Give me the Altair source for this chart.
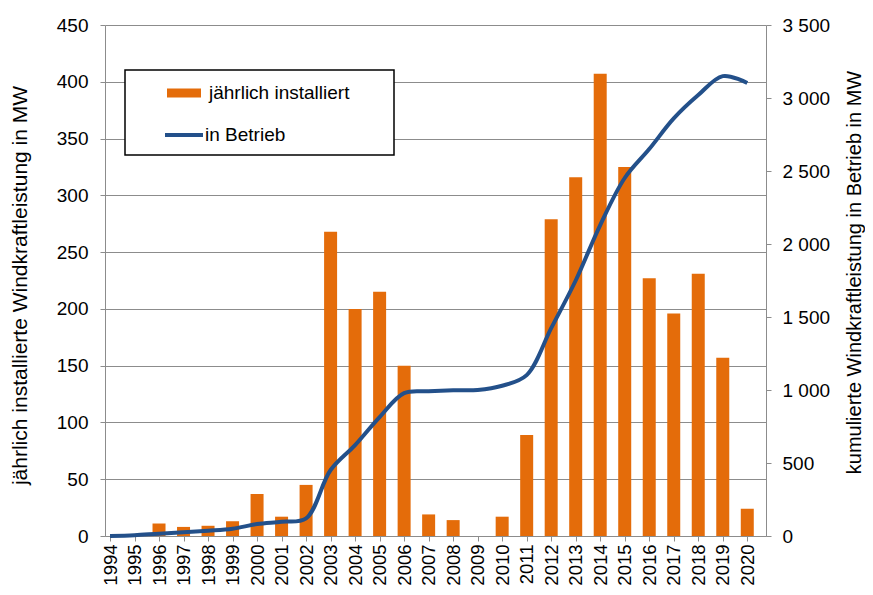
import altair as alt
import pandas as pd

years = list(range(1994, 2021))
annual = [0, 0, 11, 8, 9, 13, 37, 17, 45, 268, 200, 215, 150, 19, 14, 0, 17, 89,
          279, 316, 407, 325, 227, 196, 231, 157, 24]
cumulative = [0, 5, 16, 25, 36, 50, 82, 98, 121, 452, 623, 815, 979, 991, 998, 1000,
              1029, 1102, 1424, 1750, 2130, 2452, 2650, 2860, 3020, 3150, 3103]
bar_label = "jährlich installiert"
line_label = "in Betrieb"
left_ticks = list(range(0, 451, 50))
right_ticks = list(range(0, 3501, 500))

ORANGE = "#E46C0A"
BLUE = "#23508A"
GRID = "#8C8C8C"
FONT = "Liberation Sans"

df = pd.DataFrame({"year": years, "annual": annual, "cum": cumulative,
                   "s1": bar_label, "s2": line_label})

xscale = alt.Scale(domain=[1994, 2020.56], nice=False, zero=False)
xaxis = alt.Axis(values=years, format="d", labelAngle=-90, grid=False, title=None,
                 tickSize=5, labelPadding=3, domainColor=GRID, tickColor=GRID,
                 labelFontSize=18.5, labelFont=FONT, labelColor="#000000")

bars = alt.Chart(df).mark_bar(size=13).encode(
    x=alt.X("year:Q", scale=xscale, axis=xaxis),
    y=alt.Y("annual:Q", scale=alt.Scale(domain=[0, 450], nice=False),
            axis=alt.Axis(values=left_ticks, title="jährlich installierte Windkraftleistung in MW",
                          grid=True, gridColor=GRID, tickSize=5, labelPadding=12,
                          domainColor=GRID, tickColor=GRID,
                          titleX=-85, titleY=260, titleAngle=-90, titleAlign="center",
                          titleBaseline="middle", titleFontSize=21)),
    color=alt.Color("s1:N", scale=alt.Scale(domain=[bar_label], range=[ORANGE]),
                    legend=alt.Legend(title=None, orient="none", legendX=62, legendY=51,
                                      symbolType="M-1,-0.26H1V0.26H-1Z", symbolSize=1156,
                                      symbolStrokeWidth=0, labelOffset=8, padding=0,
                                      labelFontSize=19, labelFont=FONT, labelColor="#000000")),
)

box = alt.Chart(pd.DataFrame({"a": [0]})).mark_rect(
    fill="white", stroke="black", strokeWidth=1.5
).encode(x=alt.value(20), x2=alt.value(289), y=alt.value(45), y2=alt.value(130))

line = alt.Chart(df).mark_line(strokeWidth=4, interpolate="catmull-rom").encode(
    x=alt.X("year:Q", scale=xscale, axis=xaxis),
    y=alt.Y("cum:Q", scale=alt.Scale(domain=[0, 3500], nice=False),
            axis=alt.Axis(values=right_ticks, orient="right", grid=False,
                          title="kumulierte Windkraftleistung in Betrieb in MW",
                          labelExpr="replace(format(datum.value, ','), ',', ' ')",
                          tickSize=5, labelPadding=11, domainColor=GRID, tickColor=GRID,
                          titleX=88, titleY=247, titleAngle=-90, titleAlign="center",
                          titleBaseline="middle", titleFontSize=20)),
    stroke=alt.Stroke("s2:N", scale=alt.Scale(domain=[line_label], range=[BLUE]),
                      legend=alt.Legend(title=None, orient="none", legendX=58, legendY=89,
                                        symbolType="stroke", symbolSize=1444,
                                        symbolStrokeWidth=4, labelOffset=0, padding=0,
                                        labelFontSize=19, labelFont=FONT,
                                        labelColor="#000000")),
)

chart = alt.layer(bars, box, line).resolve_scale(y="independent").properties(
    width=661, height=511,
    autosize=alt.AutoSizeParams(type="none"),
    padding={"left": 97, "top": 17, "right": 99, "bottom": 51},
).configure_view(strokeWidth=0).configure_axis(
    labelFont=FONT, labelFontSize=19, labelColor="#000000",
    titleFont=FONT, titleFontSize=20, titleFontWeight="normal", titleColor="#000000",
)

chart.save("out.html", embed_options={"renderer": "svg", "actions": False})
